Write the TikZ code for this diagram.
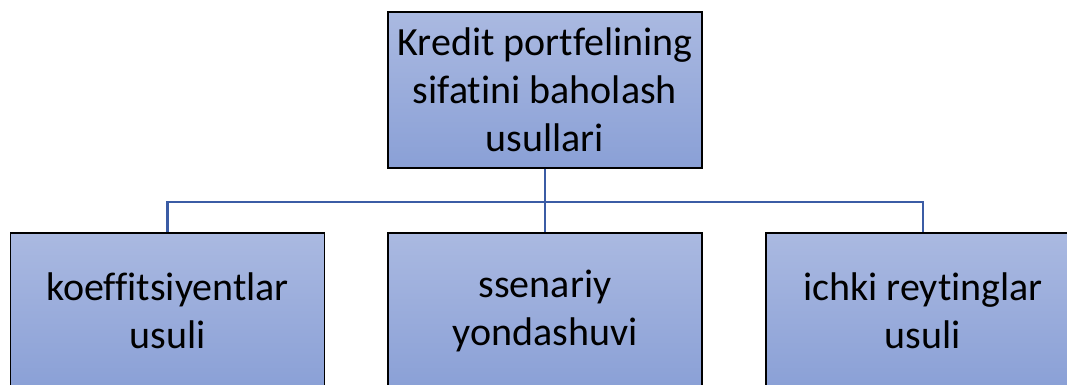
\documentclass[tikz,border=0pt]{standalone}
\usepackage{fontspec}
\setmainfont{Carlito}[Ligatures={NoCommon,NoContextual}]
\usetikzlibrary{positioning, calc}
\definecolor{boxtop}{RGB}{170,185,225}
\definecolor{boxbot}{RGB}{138,160,214}
\definecolor{linkblue}{RGB}{59,92,165}
\begin{document}
\begin{tikzpicture}[x=1pt, y=1pt,
  method/.style={draw=black, line width=1.3pt, top color=boxtop, bottom color=boxbot,
    minimum width=314pt, minimum height=156pt, align=center,
    font=\fontsize{40}{48}\selectfont, inner sep=0pt},
  link/.style={draw=linkblue, line width=2.8pt}]
  \path[use as bounding box, clip] (0,0) rectangle (1067,385);
  \node[method] (root) at (545,295) {Kredit portfelining\\sifatini baholash\\usullari};
  \node[method] (koef) at (167.5,74) {koeffitsiyentlar\\usuli};
  \node[method] (ssen) at (545,74) {ssenariy\\yondashuvi};
  \node[method] (ichki) at (923,74) {ichki reytinglar\\usuli};
  \coordinate (hub) at (545,183);
  \draw[link] (root) -- (ssen);
  \draw[link] (hub) -| (koef);
  \draw[link] (hub) -| (ichki);
\end{tikzpicture}
\end{document}
